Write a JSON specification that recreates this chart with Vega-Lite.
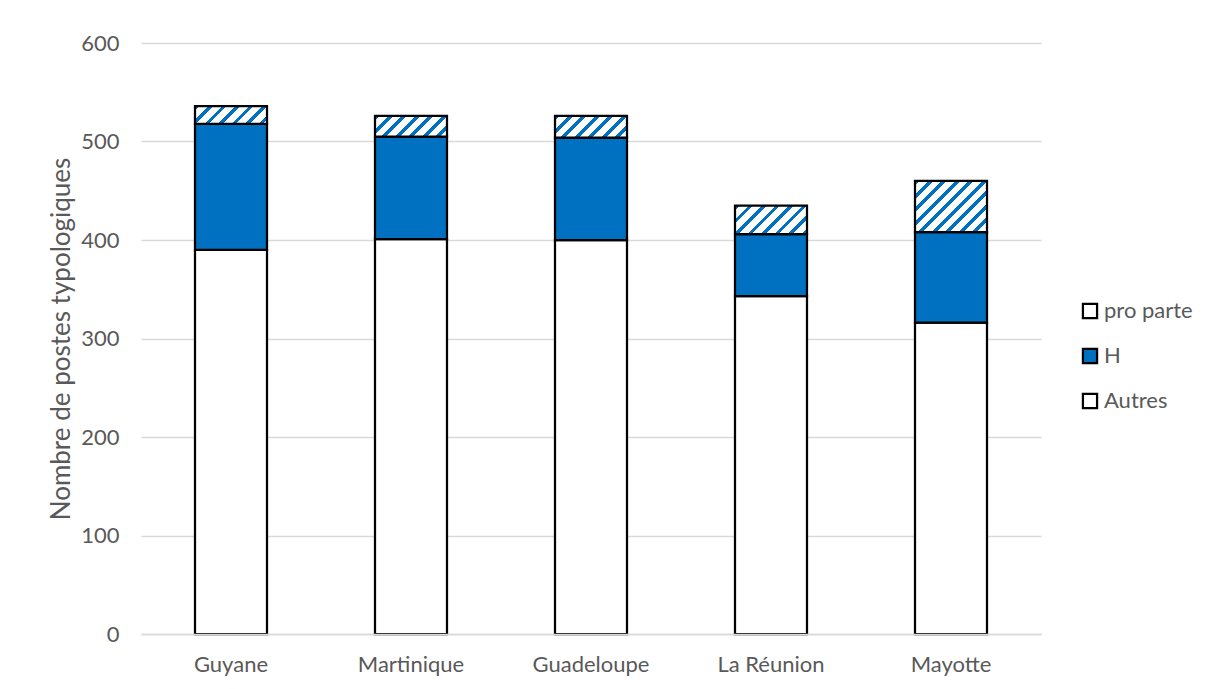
{
  "$schema": "https://vega.github.io/schema/vega-lite/v6.json",
  "width": 900,
  "height": 591,
  "autosize": {"type": "none"},
  "padding": {"left": 141, "top": 43, "right": 167, "bottom": 55},
  "background": "white",
  "config": {
    "view": {"stroke": null},
    "font": "Lato",
    "axis": {"labelFont": "Lato", "titleFont": "Lato", "labelColor": "#595959", "titleColor": "#595959", "labelFontSize": 22, "titleFontSize": 26, "titleFontWeight": "normal"},
    "legend": {"labelFont": "Lato", "labelFontSize": 22, "labelColor": "#595959"}
  },
  "data": {
    "values": [
      {"region": "Guyane", "serie": "Autres", "rang": 1, "valeur": 390},
      {"region": "Guyane", "serie": "H", "rang": 2, "valeur": 128},
      {"region": "Guyane", "serie": "pro parte", "rang": 3, "valeur": 18},
      {"region": "Martinique", "serie": "Autres", "rang": 1, "valeur": 401},
      {"region": "Martinique", "serie": "H", "rang": 2, "valeur": 104},
      {"region": "Martinique", "serie": "pro parte", "rang": 3, "valeur": 21},
      {"region": "Guadeloupe", "serie": "Autres", "rang": 1, "valeur": 400},
      {"region": "Guadeloupe", "serie": "H", "rang": 2, "valeur": 104},
      {"region": "Guadeloupe", "serie": "pro parte", "rang": 3, "valeur": 22},
      {"region": "La Réunion", "serie": "Autres", "rang": 1, "valeur": 343},
      {"region": "La Réunion", "serie": "H", "rang": 2, "valeur": 63},
      {"region": "La Réunion", "serie": "pro parte", "rang": 3, "valeur": 29},
      {"region": "Mayotte", "serie": "Autres", "rang": 1, "valeur": 316},
      {"region": "Mayotte", "serie": "H", "rang": 2, "valeur": 92},
      {"region": "Mayotte", "serie": "pro parte", "rang": 3, "valeur": 52}
    ]
  },
  "mark": {"type": "bar", "stroke": "black", "strokeWidth": 2.25},
  "encoding": {
    "x": {
      "field": "region", "type": "nominal",
      "sort": ["Guyane", "Martinique", "Guadeloupe", "La Réunion", "Mayotte"],
      "scale": {"paddingInner": 0.6, "paddingOuter": 0.3},
      "axis": {"title": null, "labelAngle": 0, "ticks": false, "domainColor": "#d9d9d9", "domainWidth": 1.5, "labelPadding": 20, "zindex": 1}
    },
    "y": {
      "field": "valeur", "type": "quantitative", "stack": "zero",
      "scale": {"domain": [0, 600], "nice": false},
      "axis": {"title": "Nombre de postes typologiques", "values": [0, 100, 200, 300, 400, 500, 600], "domain": false, "ticks": false, "gridColor": "#d9d9d9", "gridWidth": 1.3, "labelPadding": 22, "titlePadding": 6}
    },
    "order": {"field": "rang", "type": "quantitative"},
    "fill": {
      "field": "serie", "type": "nominal",
      "scale": {"domain": ["pro parte", "H", "Autres"], "range": ["#FFFFFF", "#0070C0", "#FFFFFF"]},
      "legend": {
        "title": null, "orient": "none", "legendX": 938, "legendY": 257,
        "symbolType": "square", "symbolSize": 200, "symbolStrokeColor": "black", "symbolStrokeWidth": 2.25,
        "rowPadding": 21, "labelOffset": 3
      },
      "condition": [
        {"test": "datum.serie === 'pro parte' && datum.region === 'Guyane'", "value": {"gradient": "linear", "x1": 0, "y1": 0, "x2": 1.7678, "y2": 0.4353, "stops": [{"offset":0,"color":"#0070C0"},{"offset":0.035,"color":"#0070C0"},{"offset":0.035,"color":"#FFFFFF"},{"offset":0.1,"color":"#FFFFFF"},{"offset":0.1,"color":"#0070C0"},{"offset":0.135,"color":"#0070C0"},{"offset":0.135,"color":"#FFFFFF"},{"offset":0.2,"color":"#FFFFFF"},{"offset":0.2,"color":"#0070C0"},{"offset":0.235,"color":"#0070C0"},{"offset":0.235,"color":"#FFFFFF"},{"offset":0.3,"color":"#FFFFFF"},{"offset":0.3,"color":"#0070C0"},{"offset":0.335,"color":"#0070C0"},{"offset":0.335,"color":"#FFFFFF"},{"offset":0.4,"color":"#FFFFFF"},{"offset":0.4,"color":"#0070C0"},{"offset":0.435,"color":"#0070C0"},{"offset":0.435,"color":"#FFFFFF"},{"offset":0.5,"color":"#FFFFFF"},{"offset":0.5,"color":"#0070C0"},{"offset":0.535,"color":"#0070C0"},{"offset":0.535,"color":"#FFFFFF"},{"offset":0.6,"color":"#FFFFFF"},{"offset":0.6,"color":"#0070C0"},{"offset":0.635,"color":"#0070C0"},{"offset":0.635,"color":"#FFFFFF"},{"offset":0.7,"color":"#FFFFFF"},{"offset":0.7,"color":"#0070C0"},{"offset":0.735,"color":"#0070C0"},{"offset":0.735,"color":"#FFFFFF"},{"offset":0.8,"color":"#FFFFFF"},{"offset":0.8,"color":"#0070C0"},{"offset":0.835,"color":"#0070C0"},{"offset":0.835,"color":"#FFFFFF"},{"offset":0.9,"color":"#FFFFFF"},{"offset":0.9,"color":"#0070C0"},{"offset":0.935,"color":"#0070C0"},{"offset":0.935,"color":"#FFFFFF"},{"offset":1,"color":"#FFFFFF"}]}},
        {"test": "datum.serie === 'pro parte' && datum.region === 'Martinique'", "value": {"gradient": "linear", "x1": 0, "y1": 0, "x2": 1.7320, "y2": 0.4977, "stops": [{"offset":0,"color":"#0070C0"},{"offset":0.035,"color":"#0070C0"},{"offset":0.035,"color":"#FFFFFF"},{"offset":0.1,"color":"#FFFFFF"},{"offset":0.1,"color":"#0070C0"},{"offset":0.135,"color":"#0070C0"},{"offset":0.135,"color":"#FFFFFF"},{"offset":0.2,"color":"#FFFFFF"},{"offset":0.2,"color":"#0070C0"},{"offset":0.235,"color":"#0070C0"},{"offset":0.235,"color":"#FFFFFF"},{"offset":0.3,"color":"#FFFFFF"},{"offset":0.3,"color":"#0070C0"},{"offset":0.335,"color":"#0070C0"},{"offset":0.335,"color":"#FFFFFF"},{"offset":0.4,"color":"#FFFFFF"},{"offset":0.4,"color":"#0070C0"},{"offset":0.435,"color":"#0070C0"},{"offset":0.435,"color":"#FFFFFF"},{"offset":0.5,"color":"#FFFFFF"},{"offset":0.5,"color":"#0070C0"},{"offset":0.535,"color":"#0070C0"},{"offset":0.535,"color":"#FFFFFF"},{"offset":0.6,"color":"#FFFFFF"},{"offset":0.6,"color":"#0070C0"},{"offset":0.635,"color":"#0070C0"},{"offset":0.635,"color":"#FFFFFF"},{"offset":0.7,"color":"#FFFFFF"},{"offset":0.7,"color":"#0070C0"},{"offset":0.735,"color":"#0070C0"},{"offset":0.735,"color":"#FFFFFF"},{"offset":0.8,"color":"#FFFFFF"},{"offset":0.8,"color":"#0070C0"},{"offset":0.835,"color":"#0070C0"},{"offset":0.835,"color":"#FFFFFF"},{"offset":0.9,"color":"#FFFFFF"},{"offset":0.9,"color":"#0070C0"},{"offset":0.935,"color":"#0070C0"},{"offset":0.935,"color":"#FFFFFF"},{"offset":1,"color":"#FFFFFF"}]}},
        {"test": "datum.serie === 'pro parte' && datum.region === 'Guadeloupe'", "value": {"gradient": "linear", "x1": 0, "y1": 0, "x2": 1.7193, "y2": 0.5175, "stops": [{"offset":0,"color":"#0070C0"},{"offset":0.035,"color":"#0070C0"},{"offset":0.035,"color":"#FFFFFF"},{"offset":0.1,"color":"#FFFFFF"},{"offset":0.1,"color":"#0070C0"},{"offset":0.135,"color":"#0070C0"},{"offset":0.135,"color":"#FFFFFF"},{"offset":0.2,"color":"#FFFFFF"},{"offset":0.2,"color":"#0070C0"},{"offset":0.235,"color":"#0070C0"},{"offset":0.235,"color":"#FFFFFF"},{"offset":0.3,"color":"#FFFFFF"},{"offset":0.3,"color":"#0070C0"},{"offset":0.335,"color":"#0070C0"},{"offset":0.335,"color":"#FFFFFF"},{"offset":0.4,"color":"#FFFFFF"},{"offset":0.4,"color":"#0070C0"},{"offset":0.435,"color":"#0070C0"},{"offset":0.435,"color":"#FFFFFF"},{"offset":0.5,"color":"#FFFFFF"},{"offset":0.5,"color":"#0070C0"},{"offset":0.535,"color":"#0070C0"},{"offset":0.535,"color":"#FFFFFF"},{"offset":0.6,"color":"#FFFFFF"},{"offset":0.6,"color":"#0070C0"},{"offset":0.635,"color":"#0070C0"},{"offset":0.635,"color":"#FFFFFF"},{"offset":0.7,"color":"#FFFFFF"},{"offset":0.7,"color":"#0070C0"},{"offset":0.735,"color":"#0070C0"},{"offset":0.735,"color":"#FFFFFF"},{"offset":0.8,"color":"#FFFFFF"},{"offset":0.8,"color":"#0070C0"},{"offset":0.835,"color":"#0070C0"},{"offset":0.835,"color":"#FFFFFF"},{"offset":0.9,"color":"#FFFFFF"},{"offset":0.9,"color":"#0070C0"},{"offset":0.935,"color":"#0070C0"},{"offset":0.935,"color":"#FFFFFF"},{"offset":1,"color":"#FFFFFF"}]}},
        {"test": "datum.serie === 'pro parte' && datum.region === 'La Réunion'", "value": {"gradient": "linear", "x1": 0, "y1": 0, "x2": 1.62, "y2": 0.6428, "stops": [{"offset":0,"color":"#0070C0"},{"offset":0.035,"color":"#0070C0"},{"offset":0.035,"color":"#FFFFFF"},{"offset":0.1,"color":"#FFFFFF"},{"offset":0.1,"color":"#0070C0"},{"offset":0.135,"color":"#0070C0"},{"offset":0.135,"color":"#FFFFFF"},{"offset":0.2,"color":"#FFFFFF"},{"offset":0.2,"color":"#0070C0"},{"offset":0.235,"color":"#0070C0"},{"offset":0.235,"color":"#FFFFFF"},{"offset":0.3,"color":"#FFFFFF"},{"offset":0.3,"color":"#0070C0"},{"offset":0.335,"color":"#0070C0"},{"offset":0.335,"color":"#FFFFFF"},{"offset":0.4,"color":"#FFFFFF"},{"offset":0.4,"color":"#0070C0"},{"offset":0.435,"color":"#0070C0"},{"offset":0.435,"color":"#FFFFFF"},{"offset":0.5,"color":"#FFFFFF"},{"offset":0.5,"color":"#0070C0"},{"offset":0.535,"color":"#0070C0"},{"offset":0.535,"color":"#FFFFFF"},{"offset":0.6,"color":"#FFFFFF"},{"offset":0.6,"color":"#0070C0"},{"offset":0.635,"color":"#0070C0"},{"offset":0.635,"color":"#FFFFFF"},{"offset":0.7,"color":"#FFFFFF"},{"offset":0.7,"color":"#0070C0"},{"offset":0.735,"color":"#0070C0"},{"offset":0.735,"color":"#FFFFFF"},{"offset":0.8,"color":"#FFFFFF"},{"offset":0.8,"color":"#0070C0"},{"offset":0.835,"color":"#0070C0"},{"offset":0.835,"color":"#FFFFFF"},{"offset":0.9,"color":"#FFFFFF"},{"offset":0.9,"color":"#0070C0"},{"offset":0.935,"color":"#0070C0"},{"offset":0.935,"color":"#FFFFFF"},{"offset":1,"color":"#FFFFFF"}]}},
        {"test": "datum.serie === 'pro parte' && datum.region === 'Mayotte'", "value": {"gradient": "linear", "x1": 0, "y1": 0, "x2": 1.2450, "y2": 0.8857, "stops": [{"offset":0,"color":"#0070C0"},{"offset":0.035,"color":"#0070C0"},{"offset":0.035,"color":"#FFFFFF"},{"offset":0.1,"color":"#FFFFFF"},{"offset":0.1,"color":"#0070C0"},{"offset":0.135,"color":"#0070C0"},{"offset":0.135,"color":"#FFFFFF"},{"offset":0.2,"color":"#FFFFFF"},{"offset":0.2,"color":"#0070C0"},{"offset":0.235,"color":"#0070C0"},{"offset":0.235,"color":"#FFFFFF"},{"offset":0.3,"color":"#FFFFFF"},{"offset":0.3,"color":"#0070C0"},{"offset":0.335,"color":"#0070C0"},{"offset":0.335,"color":"#FFFFFF"},{"offset":0.4,"color":"#FFFFFF"},{"offset":0.4,"color":"#0070C0"},{"offset":0.435,"color":"#0070C0"},{"offset":0.435,"color":"#FFFFFF"},{"offset":0.5,"color":"#FFFFFF"},{"offset":0.5,"color":"#0070C0"},{"offset":0.535,"color":"#0070C0"},{"offset":0.535,"color":"#FFFFFF"},{"offset":0.6,"color":"#FFFFFF"},{"offset":0.6,"color":"#0070C0"},{"offset":0.635,"color":"#0070C0"},{"offset":0.635,"color":"#FFFFFF"},{"offset":0.7,"color":"#FFFFFF"},{"offset":0.7,"color":"#0070C0"},{"offset":0.735,"color":"#0070C0"},{"offset":0.735,"color":"#FFFFFF"},{"offset":0.8,"color":"#FFFFFF"},{"offset":0.8,"color":"#0070C0"},{"offset":0.835,"color":"#0070C0"},{"offset":0.835,"color":"#FFFFFF"},{"offset":0.9,"color":"#FFFFFF"},{"offset":0.9,"color":"#0070C0"},{"offset":0.935,"color":"#0070C0"},{"offset":0.935,"color":"#FFFFFF"},{"offset":1,"color":"#FFFFFF"}]}}
      ]
    }
  }
}
